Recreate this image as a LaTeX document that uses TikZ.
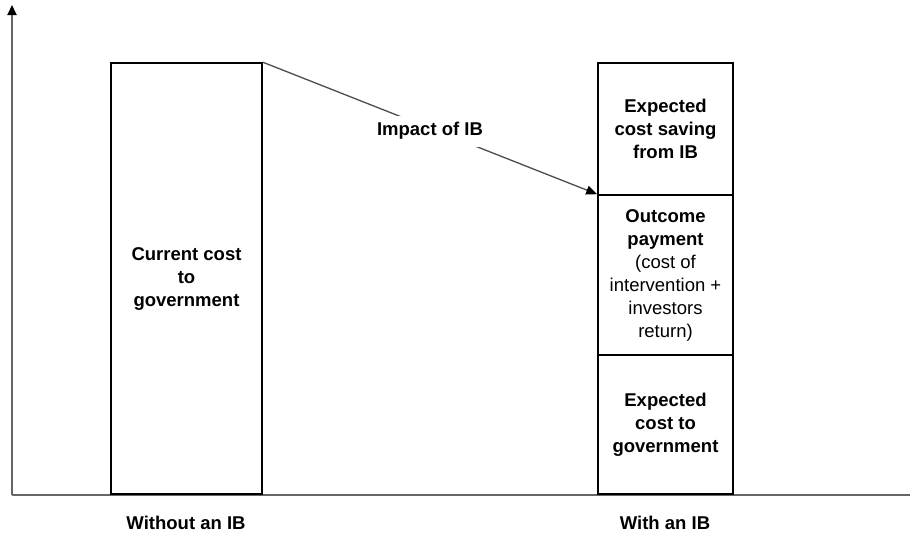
\documentclass[tikz,border=0pt]{standalone}
\usepackage{fontspec}
\setmainfont{Liberation Sans}
\usetikzlibrary{arrows.meta}
\begin{document}
\begin{tikzpicture}[x=1pt,y=-1pt,
  font=\fontsize{18.5}{23}\selectfont,
  axis/.style={draw=black!60, line width=2pt},
  box/.style={draw=black, line width=1.6pt, align=center, inner sep=0pt, minimum width=#1},
  box/.default=135pt,
  impact/.style={draw=black!70, line width=1.3pt, -{Triangle[length=11pt,width=9pt,color=black]}},
  lbl/.style={font=\fontsize{18.5}{23}\selectfont\bfseries}]
\useasboundingbox (0,0) rectangle (910,541);
\coordinate (o) at (12,495);
\coordinate (ytop) at (12,5);
\coordinate (xend) at (910,495);
\draw[axis] (o) -- (xend);
\draw[axis,-{Triangle[length=10pt,width=9pt,color=black]}] (o) -- (ytop);
\node[box=151pt, minimum height=431pt] (cur) at (186.5,278.5)
  {\bfseries Current cost\\\bfseries to\\\bfseries government};
\node[box, minimum height=132pt] (sav) at (665.5,129)
  {\bfseries Expected\\\bfseries cost saving\\\bfseries from IB};
\node[box, minimum height=160pt] (pay) at (665.5,275)
  {\bfseries Outcome\\\bfseries payment\\(cost of\\intervention +\\investors\\return)};
\node[box, minimum height=139pt] (exp) at (665.5,424.5)
  {\bfseries Expected\\\bfseries cost to\\\bfseries government};
\draw[impact] (cur.north east) -- node[lbl, fill=white, inner xsep=8pt, inner ysep=7pt, yshift=-3pt] (imp) {Impact of IB} (pay.north west);
\node[lbl] (wo) at (186,523) {Without an IB};
\node[lbl] (wi) at (665,523) {With an IB};
\end{tikzpicture}
\end{document}
